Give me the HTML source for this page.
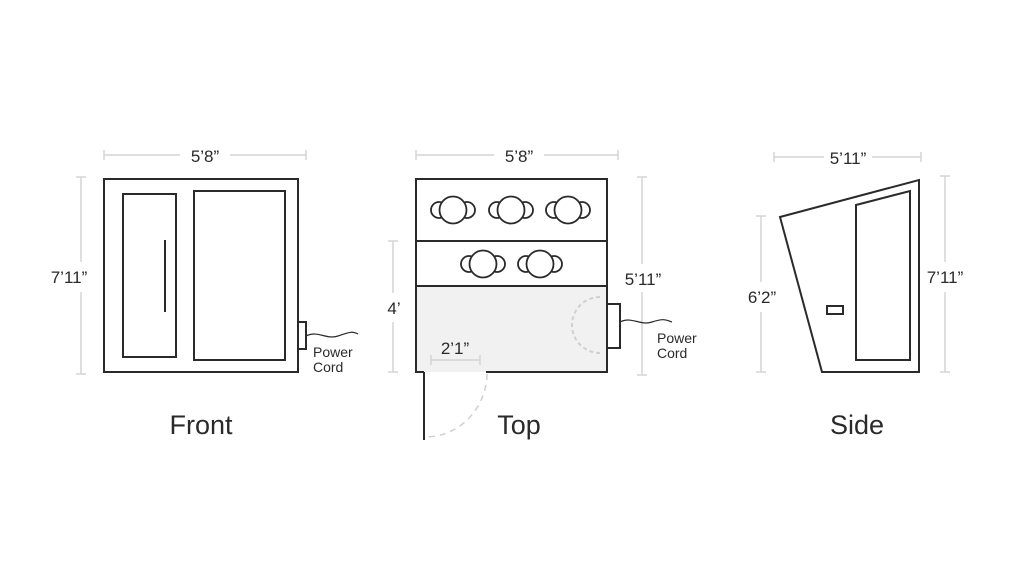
<!DOCTYPE html>
<html><head><style>body{margin:0;background:#fff}svg{display:block}</style></head><body>
<svg width="1024" height="562" viewBox="0 0 1024 562" xmlns="http://www.w3.org/2000/svg" font-family="Liberation Sans, sans-serif">
<g stroke="#d4d4d4" stroke-width="1.5" fill="none">
<line x1="104" y1="155" x2="180" y2="155"/><line x1="230" y1="155" x2="306" y2="155"/>
<line x1="104" y1="150" x2="104" y2="160"/><line x1="306" y1="150" x2="306" y2="160"/>
<line x1="81" y1="177" x2="81" y2="262"/><line x1="81" y1="292" x2="81" y2="374"/>
<line x1="76" y1="177" x2="86" y2="177"/><line x1="76" y1="374" x2="86" y2="374"/>
<line x1="416" y1="155" x2="494" y2="155"/><line x1="544" y1="155" x2="618" y2="155"/>
<line x1="416" y1="150" x2="416" y2="160"/><line x1="618" y1="150" x2="618" y2="160"/>
<line x1="642" y1="177" x2="642" y2="264"/><line x1="642" y1="292" x2="642" y2="375"/>
<line x1="637" y1="177" x2="647" y2="177"/><line x1="637" y1="375" x2="647" y2="375"/>
<line x1="393" y1="241" x2="393" y2="293"/><line x1="393" y1="322" x2="393" y2="372"/>
<line x1="388" y1="241" x2="398" y2="241"/><line x1="388" y1="372" x2="398" y2="372"/>
<line x1="774" y1="157" x2="824" y2="157"/><line x1="872" y1="157" x2="921" y2="157"/>
<line x1="774" y1="152" x2="774" y2="162"/><line x1="921" y1="152" x2="921" y2="162"/>
<line x1="945" y1="176" x2="945" y2="262"/><line x1="945" y1="292" x2="945" y2="372"/>
<line x1="940" y1="176" x2="950" y2="176"/><line x1="940" y1="372" x2="950" y2="372"/>
<line x1="761" y1="216" x2="761" y2="282"/><line x1="761" y1="312" x2="761" y2="372"/>
<line x1="756" y1="216" x2="766" y2="216"/><line x1="756" y1="372" x2="766" y2="372"/>
</g>
<rect x="416" y="286" width="191" height="86" fill="#f1f1f1"/>
<line x1="431" y1="360" x2="480" y2="360" stroke="#d4d4d4" stroke-width="1.5"/>
<line x1="431" y1="355" x2="431" y2="365" stroke="#d4d4d4" stroke-width="1.5"/>
<line x1="480" y1="355" x2="480" y2="365" stroke="#d4d4d4" stroke-width="1.5"/>
<path d="M600 297 A28 28 0 0 0 600 353" fill="none" stroke="#d0d0d0" stroke-width="2" stroke-dasharray="4 3"/>
<path d="M487 374 A62 64 0 0 1 426 437" fill="none" stroke="#d0d0d0" stroke-width="1.5" stroke-dasharray="6 5"/>
<g stroke="#2a2a2a" stroke-width="2" fill="none">
<rect x="104" y="179" width="194" height="193"/>
<rect x="123" y="194" width="53" height="163"/>
<rect x="194" y="191" width="91" height="169"/>
<line x1="165" y1="240" x2="165" y2="312"/>
<rect x="298" y="322" width="8" height="27"/>
<path d="M306 336 C318 330 326 340 338 336 S352 331 358 334" stroke-width="1.2"/>
<path d="M424 372 H416 V179 H607 V372 H486"/>
<line x1="416" y1="241" x2="607" y2="241"/>
<line x1="416" y1="286" x2="607" y2="286"/>
<line x1="424" y1="372" x2="424" y2="440"/>
<rect x="607" y="304" width="13" height="44"/>
<path d="M620 322 C632 316 640 326 652 322 S666 320 672 322" stroke-width="1.2"/>
<polygon points="780,217 919,180 919,372 822,372"/>
<polygon points="856,205 910,191 910,360 856,360"/>
<rect x="827" y="306" width="16" height="8"/>
</g>
<g stroke="#2a2a2a" stroke-width="1.8" fill="#fff">
<g transform="translate(453,210)"><circle cx="-14" cy="0" r="8"/><circle cx="14" cy="0" r="8"/><circle cx="0" cy="0" r="13.5"/></g>
<g transform="translate(511,210)"><circle cx="-14" cy="0" r="8"/><circle cx="14" cy="0" r="8"/><circle cx="0" cy="0" r="13.5"/></g>
<g transform="translate(568,210)"><circle cx="-14" cy="0" r="8"/><circle cx="14" cy="0" r="8"/><circle cx="0" cy="0" r="13.5"/></g>
<g transform="translate(483,264)"><circle cx="-14" cy="0" r="8"/><circle cx="14" cy="0" r="8"/><circle cx="0" cy="0" r="13.5"/></g>
<g transform="translate(540,264)"><circle cx="-14" cy="0" r="8"/><circle cx="14" cy="0" r="8"/><circle cx="0" cy="0" r="13.5"/></g>
</g>
<g fill="#2a2a2a" font-size="17" text-anchor="middle">
<text x="205" y="162">5’8”</text>
<text x="69" y="283">7’11”</text>
<text x="519" y="162">5’8”</text>
<text x="643" y="285">5’11”</text>
<text x="394" y="314">4’</text>
<text x="455" y="354">2’1”</text>
<text x="848" y="164">5’11”</text>
<text x="945" y="283">7’11”</text>
<text x="762" y="303">6’2”</text>
</g>
<g fill="#2a2a2a" font-size="14">
<text x="313" y="357">Power</text><text x="313" y="372">Cord</text>
<text x="657" y="343">Power</text><text x="657" y="358">Cord</text>
</g>
<g fill="#2a2a2a" font-size="27" text-anchor="middle">
<text x="201" y="434">Front</text>
<text x="519" y="434">Top</text>
<text x="857" y="434">Side</text>
</g>
</svg>
</body></html>
